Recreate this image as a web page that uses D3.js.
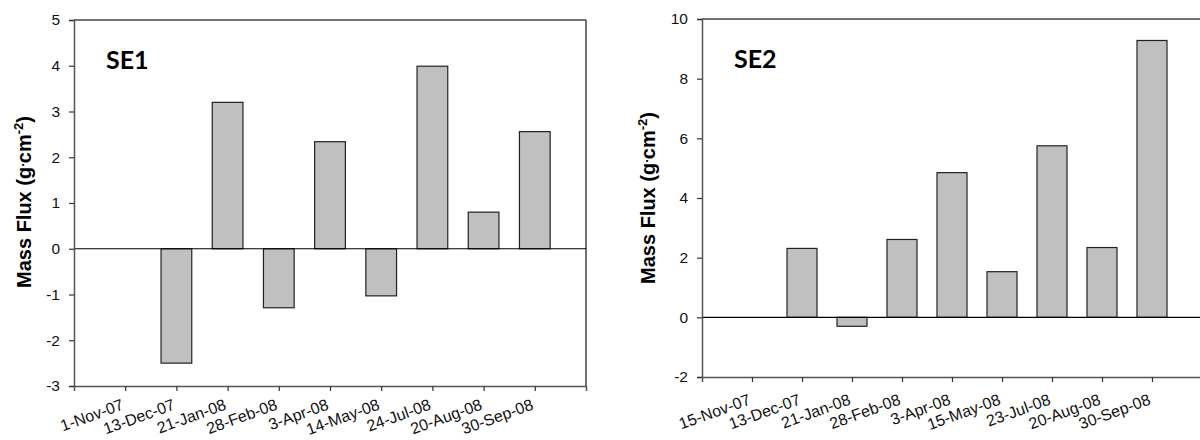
<!DOCTYPE html>
<html>
<head>
<meta charset="utf-8">
<script src="https://cdn.jsdelivr.net/npm/d3@7"></script>
<style>
  body { margin: 0; background: #fff; }
  svg { display: block; font-family: "Liberation Sans", Arial, sans-serif; }
</style>
</head>
<body>
<div id="chart"></div>
<script>
// Data
const datesSE1 = ["1-Nov-07", "13-Dec-07", "21-Jan-08", "28-Feb-08", "3-Apr-08", "14-May-08", "24-Jul-08", "20-Aug-08", "30-Sep-08"];
const fluxSE1 = [null, -2.5, 3.2, -1.29, 2.34, -1.03, 3.99, 0.8, 2.56];
const ticksSE1 = [-3, -2, -1, 0, 1, 2, 3, 4, 5];

const datesSE2 = ["15-Nov-07", "13-Dec-07", "21-Jan-08", "28-Feb-08", "3-Apr-08", "15-May-08", "23-Jul-08", "20-Aug-08", "30-Sep-08"];
const fluxSE2 = [null, 2.31, -0.3, 2.61, 4.85, 1.53, 5.75, 2.34, 9.28];
const ticksSE2 = [-2, 0, 2, 4, 6, 8, 10];

const width = 1200, height = 440;

const svg = d3.select('#chart')
  .append('svg')
  .attr('width', width)
  .attr('height', height);

function drawPanel(opts) {
  const { left, right, top, bottom, dates, values, yTicks, label, titleX, titleY, labelDrop } = opts;

  // 10 slots, dates sit on 1..9
  const x = d3.scaleLinear().domain([0, 10]).range([left, right]);
  const y = d3.scaleLinear().domain([yTicks[0], yTicks[yTicks.length - 1]]).range([bottom, top]);
  const slot = x(1) - x(0);
  const barW = slot * 0.6;

  const g = svg.append('g');

  // frame top and right
  g.append('line')
    .attr('x1', left).attr('x2', right)
    .attr('y1', top).attr('y2', top)
    .attr('stroke', '#444').attr('stroke-width', 1.5);
  g.append('line')
    .attr('x1', right).attr('x2', right)
    .attr('y1', top).attr('y2', bottom)
    .attr('stroke', '#444').attr('stroke-width', 1.5);

  // bars
  const data = dates.map((d, i) => ({ date: d, i: i + 1, v: values[i] })).filter(d => d.v != null);
  g.selectAll('rect.bar')
    .data(data)
    .enter()
    .append('rect')
    .attr('class', 'bar')
    .attr('x', d => x(d.i) - barW / 2)
    .attr('y', d => y(Math.max(0, d.v)))
    .attr('width', barW)
    .attr('height', d => Math.abs(y(d.v) - y(0)))
    .attr('fill', '#c0c0c0')
    .attr('stroke', '#222')
    .attr('stroke-width', 1.2);

  // zero line
  g.append('line')
    .attr('x1', left).attr('x2', right)
    .attr('y1', y(0)).attr('y2', y(0))
    .attr('stroke', '#000').attr('stroke-width', 1.2);

  // y axis
  const yAxis = g.append('g')
    .attr('transform', `translate(${left},0)`)
    .call(d3.axisLeft(y).tickValues(yTicks).tickSize(5).tickPadding(9).tickFormat(d3.format('d')));
  yAxis.select('.domain').attr('stroke', '#555').attr('stroke-width', 1.5);
  yAxis.selectAll('.tick line').attr('stroke', '#333').attr('stroke-width', 1.2);
  yAxis.selectAll('.tick text')
    .attr('font-size', 15.5).attr('fill', '#111')
    .text(d => d < 0 ? '-' + Math.abs(d) : d);

  // x axis
  const xAxis = g.append('g')
    .attr('transform', `translate(0,${bottom})`)
    .call(d3.axisBottom(x).tickValues(d3.range(1, 10)).tickSize(5).tickFormat(d => dates[d - 1]));
  xAxis.select('.domain').attr('stroke', '#555').attr('stroke-width', 1.5);
  xAxis.selectAll('.tick line').attr('stroke', '#333').attr('stroke-width', 1.2);
  xAxis.selectAll('.tick text')
    .attr('font-size', 16).attr('fill', '#111')
    .attr('text-anchor', 'end')
    .attr('y', 0).attr('dy', 0)
    .attr('transform', `translate(-1,${labelDrop}) rotate(-20)`);

  // panel label
  g.append('text')
    .attr('x', left + 32)
    .attr('y', top + 49)
    .attr('font-family', 'Lato, "Open Sans", sans-serif')
    .attr('font-weight', 'bold')
    .attr('font-size', 25)
    .text(label);

  // y axis title
  const t = g.append('text')
    .attr('transform', `translate(${titleX},${titleY}) rotate(-90)`)
    .attr('text-anchor', 'middle')
    .attr('font-weight', 'bold')
    .attr('font-size', 20);
  t.append('tspan').text('Mass Flux (g');
  t.append('tspan').attr('font-size', 13).attr('dy', -7).text('.');
  t.append('tspan').attr('dy', 7).text('cm');
  t.append('tspan').attr('font-size', 13).attr('dy', -8).text('-2');
  t.append('tspan').attr('dy', 8).text(')');
}

drawPanel({
  left: 74, right: 586, top: 20, bottom: 386,
  dates: datesSE1, values: fluxSE1, yTicks: ticksSE1, label: 'SE1',
  titleX: 31, titleY: 202, labelDrop: 23
});

drawPanel({
  left: 702, right: 1202, top: 19, bottom: 377,
  dates: datesSE2, values: fluxSE2, yTicks: ticksSE2, label: 'SE2',
  titleX: 655, titleY: 198, labelDrop: 27
});
</script>
</body>
</html>
